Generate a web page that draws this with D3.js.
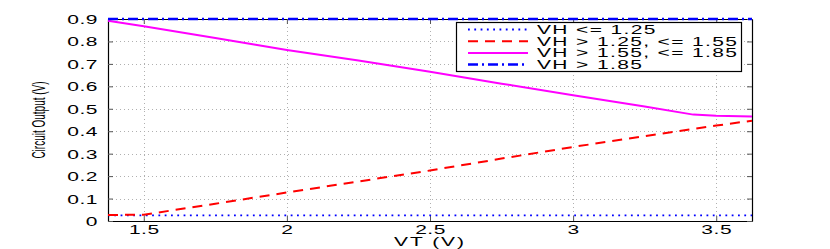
<!DOCTYPE html>
<html><head><meta charset="utf-8">
<script src="https://cdn.jsdelivr.net/npm/d3@7"></script>
<style>
html,body{margin:0;padding:0;background:#fff;}
svg{display:block;}
text{font-family:"Liberation Sans",Arial,Helvetica,sans-serif;fill:#000;}
</style></head>
<body>
<script>
// ---- data ----
const vt = [1.375, 1.5, 1.75, 2, 2.25, 2.5, 2.75, 3, 3.25, 3.42, 3.5, 3.625];
const vhLow = [0.025, 0.025, 0.025, 0.025, 0.025, 0.025, 0.025, 0.025, 0.025, 0.025, 0.025, 0.025];
const vhMidLow = [0.027, 0.028, 0.077, 0.127, 0.176, 0.225, 0.278, 0.33, 0.378, 0.41, 0.425, 0.447];
const vhMidHigh = [0.892, 0.868, 0.815, 0.762, 0.715, 0.665, 0.612, 0.56, 0.51, 0.474, 0.469, 0.466];
const vhHigh = [0.9, 0.9, 0.9, 0.9, 0.9, 0.9, 0.9, 0.9, 0.9, 0.9, 0.9, 0.9];
const seriesNames = ["VH <= 1.25", "VH > 1.25, <= 1.55", "VH > 1.55, <= 1.85", "VH > 1.85"];
const xTicks = [1.5, 2, 2.5, 3, 3.5];
const xTickLabels = ["1.5", "2", "2.5", "3", "3.5"];
const yTicks = [0, 0.1, 0.2, 0.3, 0.4, 0.5, 0.6, 0.7, 0.8, 0.9];
const yTickLabels = ["0", "0.1", "0.2", "0.3", "0.4", "0.5", "0.6", "0.7", "0.8", "0.9"];
const xLabel = "VT (V)";
const yLabel = "Circuit Output (V)";

// ---- layout ----
const W = 830, H = 249;
const L = 108, R = 752, T = 19, B = 221;
const SX = 1.75; // horizontal stretch of text as in the reference

const x = d3.scaleLinear().domain([1.375, 3.625]).range([L, R]);
const y = d3.scaleLinear().domain([0, 0.9]).range([B, T]);

const svg = d3.select("body").append("svg").attr("width", W).attr("height", H);

// grid
const grid = svg.append("g").attr("stroke", "#b0b0b0").attr("stroke-width", 1).attr("stroke-dasharray", "1,3");
grid.selectAll("line.gx").data(xTicks).join("line")
  .attr("x1", d => Math.round(x(d)) + 0.5).attr("x2", d => Math.round(x(d)) + 0.5)
  .attr("y1", T).attr("y2", B);
grid.selectAll("line.gy").data(yTicks.slice(1, -1)).join("line")
  .attr("y1", d => Math.round(y(d)) + 0.5).attr("y2", d => Math.round(y(d)) + 0.5)
  .attr("x1", L).attr("x2", R);

// axes
const tl = 5;
const axB = d3.axisBottom(x).tickValues(xTicks).tickFormat((d, i) => xTickLabels[i]).tickSizeInner(-tl).tickSizeOuter(0).tickPadding(4);
const axT = d3.axisTop(x).tickValues(xTicks).tickFormat("").tickSizeInner(-tl).tickSizeOuter(0);
const axL = d3.axisLeft(y).tickValues(yTicks).tickFormat((d, i) => yTickLabels[i]).tickSizeInner(-tl).tickSizeOuter(0);
const axR = d3.axisRight(y).tickValues(yTicks).tickFormat("").tickSizeInner(-tl).tickSizeOuter(0);

const gB = svg.append("g").attr("transform", `translate(0,${B})`).call(axB);
const gT = svg.append("g").attr("transform", `translate(0,${T})`).call(axT);
const gL = svg.append("g").attr("transform", `translate(${L},0)`).call(axL);
const gR = svg.append("g").attr("transform", `translate(${R},0)`).call(axR);
[gB, gT, gL, gR].forEach(g => {
  g.select(".domain").attr("stroke", "#000").attr("stroke-width", 1.2);
  g.selectAll(".tick line").attr("stroke", "#555");
});
gB.selectAll(".tick text").attr("font-size", 12).attr("y", 0).attr("dy", 0)
  .attr("letter-spacing", 0.3)
  .attr("transform", `translate(0,13) scale(${SX},1)`);
gL.selectAll(".tick text").attr("font-size", 12).attr("x", 0).attr("dy", 0)
  .attr("letter-spacing", 0.3)
  .attr("text-anchor", "end").attr("transform", `translate(-10,4.5) scale(${SX},1)`);

// lines
const pts = vals => vals.map((v, i) => [vt[i], v]);
const line = d3.line().x(d => x(d[0])).y(d => y(d[1]));
const styles = [
  {data: vhLow, color: "#0000ff", dash: "1.8,4.5", w: 1.8},
  {data: vhMidLow, color: "#ff0000", dash: "10,7", w: 2},
  {data: vhMidHigh, color: "#ff00ff", dash: null, w: 2},
  {data: vhHigh, color: "#0000ff", dash: "10,4,2,4", w: 2.5}
];
const plot = svg.append("g");
styles.forEach(s => {
  plot.append("path").datum(pts(s.data)).attr("d", line)
    .attr("fill", "none").attr("stroke", s.color).attr("stroke-width", s.w)
    .attr("stroke-dasharray", s.dash);
});

// legend
const lg = svg.append("g");
lg.append("rect").attr("x", 456.5).attr("y", 22.5).attr("width", 285).attr("height", 49)
  .attr("fill", "#fff").attr("stroke", "#000").attr("stroke-width", 1.2);
seriesNames.forEach((name, i) => {
  const yy = 29.5 + i * 11.7;
  lg.append("line").attr("x1", 468).attr("x2", 528).attr("y1", yy).attr("y2", yy)
    .attr("stroke", styles[i].color).attr("stroke-width", styles[i].w)
    .attr("stroke-dasharray", styles[i].dash);
  lg.append("text").attr("font-size", 12).attr("letter-spacing", 0.78)
    .attr("transform", `translate(537,${yy + 4.3}) scale(${SX},1)`)
    .text(name);
});

// axis labels
svg.append("text").attr("font-size", 12).attr("text-anchor", "middle").attr("letter-spacing", 1.1)
  .attr("transform", `translate(${(L + R) / 2},246) scale(${SX},1)`).text(xLabel);
svg.append("text").attr("font-size", 10).attr("text-anchor", "middle")
  .attr("transform", `translate(45,${(T + B) / 2}) scale(1.9,1) rotate(-90)`).text(yLabel);
</script>
</body></html>
